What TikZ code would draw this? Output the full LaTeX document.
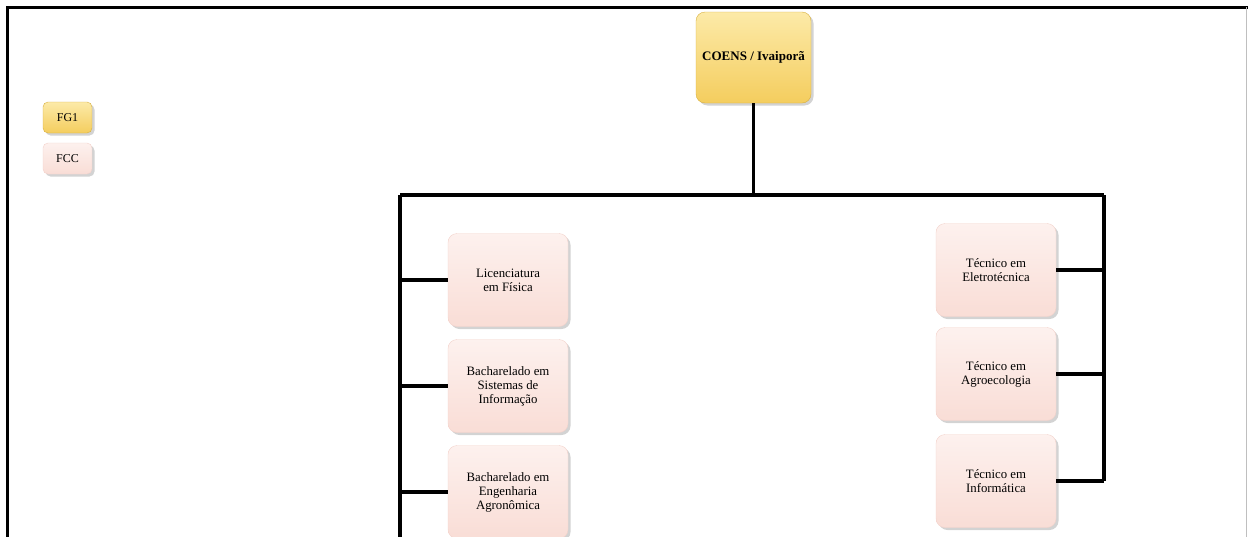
\documentclass[tikz,border=0pt]{standalone}
\usepackage{fontspec}
\setmainfont{Liberation Serif}
\usetikzlibrary{shadows}
\definecolor{goldtop}{HTML}{FCEAA8}
\definecolor{goldbot}{HTML}{F4CD5E}
\definecolor{goldline}{HTML}{D8B040}
\definecolor{pinktop}{HTML}{FDF1EE}
\definecolor{pinkbot}{HTML}{F9DDD6}
\definecolor{pinkline}{HTML}{F3D2CB}

\begin{document}
\begin{tikzpicture}[x=1pt,y=-1pt,
  box/.style={rounded corners=9pt, align=center, inner sep=2pt,
    drop shadow={shadow xshift=2.5pt, shadow yshift=-2.5pt, opacity=0.35, fill=gray}},
  fgbox/.style={box, draw=goldline, top color=goldtop, bottom color=goldbot},
  fccbox/.style={box, draw=pinkline, top color=pinktop, bottom color=pinkbot},
  course/.style={fccbox, minimum width=120pt, minimum height=93pt,
    font=\fontsize{12.8}{14}\selectfont},
  legend/.style={minimum width=49pt, minimum height=31pt, rounded corners=5pt,
    font=\fontsize{12}{13}\selectfont},
  link/.style={line width=3.4pt, black}]
\useasboundingbox (0,0) rectangle (1248,536);

% page frame
\draw[line width=3pt] (7,540) -- (7,7) -- (1252,7);
\draw[gray!50, line width=1pt] (1246,7) -- (1246,540);

% legend
\node[fgbox, legend] (fg) at (67.5,117.5) {FG1};
\node[fccbox, legend] (fcc) at (67.5,158.5) {FCC};

% head
\node[fgbox, minimum width=115pt, minimum height=91pt,
  font=\fontsize{13}{15}\selectfont\bfseries] (coens) at (753.5,57.5) {COENS / Ivaiporã};

% courses
\node[course] (lic) at (508,280) {Licenciatura\\em Física};
\node[course] (bsi) at (508,386) {Bacharelado em\\Sistemas de\\Informação};
\node[course] (bea) at (508,492) {Bacharelado em\\Engenharia\\Agronômica};
\node[course] (tel) at (996,270) {Técnico em\\Eletrotécnica};
\node[course] (tag) at (996,374) {Técnico em\\Agroecologia};
\node[course] (tin) at (996,481) {Técnico em\\Informática};

% connectors
\coordinate (busL) at (400,195);
\coordinate (busR) at (1104,195);
\coordinate (endL) at (400,540);
\draw[link] (coens.south) -- (coens.south |- busL);
\draw[link] (busL) -- (busR);
\draw[link] (busL) -- (endL);
\draw[link] (busR) -- (busR |- tin.east);
\foreach \n in {lic,bsi,bea}
  \draw[link] (\n.west) -- (\n.west -| busL);
\foreach \n in {tel,tag,tin}
  \draw[link] (\n.east) -- (\n.east -| busR);
\end{tikzpicture}
\end{document}
